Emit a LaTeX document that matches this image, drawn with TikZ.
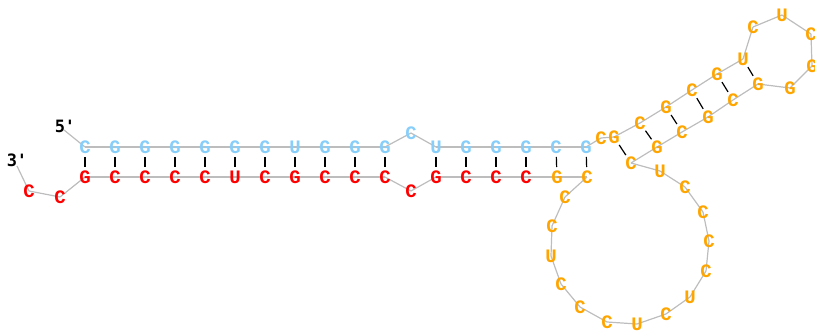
\documentclass[tikz,border=0pt]{standalone}
\usepackage{fontspec}
\newfontfamily\ntfont{Liberation Mono}
\newfontfamily\lblfont{DejaVu Sans Mono}
\usetikzlibrary{backgrounds}
\definecolor{ntblue}{HTML}{87CEFA}
\definecolor{ntred}{HTML}{FF0000}
\definecolor{ntorange}{HTML}{FFA500}
\definecolor{bbgray}{HTML}{BDBDBD}
\tikzset{
  nt/.style={inner sep=0pt, font=\ntfont\bfseries\fontsize{19}{19}\selectfont},
  lbl/.style={inner sep=0pt, font=\lblfont\bfseries\fontsize{17}{17}\selectfont, text=black},
  bb/.style={draw=bbgray, line width=1.2pt},
  bp/.style={draw=black, line width=1.2pt, shorten >=10pt, shorten <=10pt},
  hp/.style={draw=black, line width=1.2pt, shorten >=9.5pt, shorten <=9.5pt}
}
\begin{document}
\begin{tikzpicture}[x=1pt,y=-1pt]
\useasboundingbox (0,0) rectangle (815,331);
\foreach \i/\b/\x/\y/\c in {
 1/C/85/147/ntblue, 2/G/115/147/ntblue, 3/G/145/147/ntblue, 4/G/175/147/ntblue,
 5/G/205/147/ntblue, 6/G/235/147/ntblue, 7/G/265/147/ntblue, 8/U/295/147/ntblue,
 9/G/325/147/ntblue, 10/G/355/147/ntblue, 11/G/385/147/ntblue, 12/C/411/133/ntblue,
 13/U/436/147/ntblue, 14/G/466/147/ntblue, 15/G/496/147/ntblue, 16/G/526/147/ntblue,
 17/C/556/147/ntblue, 18/G/586/147/ntblue,
 19/C/601/138/ntorange, 20/G/614/137/ntorange, 21/C/640/123/ntorange, 22/G/666/107/ntorange,
 23/C/692/90/ntorange, 24/G/717/74/ntorange, 25/U/743/59/ntorange, 26/C/753/27/ntorange,
 27/U/782/15/ntorange, 28/C/811/34/ntorange, 29/G/812/66/ntorange, 30/G/790/88/ntorange,
 31/G/758/84/ntorange, 32/C/733/100/ntorange, 33/G/708/117/ntorange, 34/C/682/132/ntorange,
 35/G/657/147/ntorange, 36/C/631/163/ntorange, 37/U/660/171/ntorange, 38/C/685/187/ntorange,
 39/C/703/212/ntorange, 40/C/709/241/ntorange, 41/C/706/271/ntorange, 42/U/690/297/ntorange,
 43/C/666/314/ntorange, 44/U/637/324/ntorange, 45/C/607/322/ntorange, 46/C/580/307/ntorange,
 47/C/561/284/ntorange, 48/U/551/256/ntorange, 49/C/552/226/ntorange, 50/C/565/197/ntorange,
 51/C/587/177/ntorange, 52/G/557/177/ntorange,
 53/C/526/177/ntred, 54/C/496/177/ntred, 55/C/466/177/ntred, 56/G/436/177/ntred,
 57/C/411/191/ntred, 58/C/385/177/ntred, 59/C/355/177/ntred, 60/C/325/177/ntred,
 61/G/295/177/ntred, 62/C/265/177/ntred, 63/U/235/177/ntred, 64/C/205/177/ntred,
 65/C/175/177/ntred, 66/C/145/177/ntred, 67/C/115/177/ntred, 68/G/85/177/ntred,
 69/C/60/197/ntred, 70/C/29/191/ntred}
 \node[nt, text=\c] (n\i) at (\x,\y) {\b};
\node[lbl] (five) at (65,126) {5'};
\node[lbl] (three) at (17,160) {3'};
\coordinate (fiveEnd) at (64,130);
\coordinate (threeEnd) at (17,166);
\begin{pgfonlayer}{background}
 \foreach \i [evaluate=\i as \j using int(\i+1)] in {1,...,69}
   \draw[bb] (n\i.center) -- (n\j.center);
 \draw[bb] (fiveEnd) -- (n1.center);
 \draw[bb] (threeEnd) -- (n70.center);
 \foreach \a/\b in {1/68,2/67,3/66,4/65,5/64,6/63,7/62,8/61,9/60,10/59,11/58,
                    13/56,14/55,15/54,16/53,17/52,18/51}
   \draw[bp] (n\a.center) -- (n\b.center);
 \foreach \a/\b in {20/36,21/35,22/34,23/33,24/32,25/31}
   \draw[hp] (n\a.center) -- (n\b.center);
\end{pgfonlayer}
\end{tikzpicture}
\end{document}
